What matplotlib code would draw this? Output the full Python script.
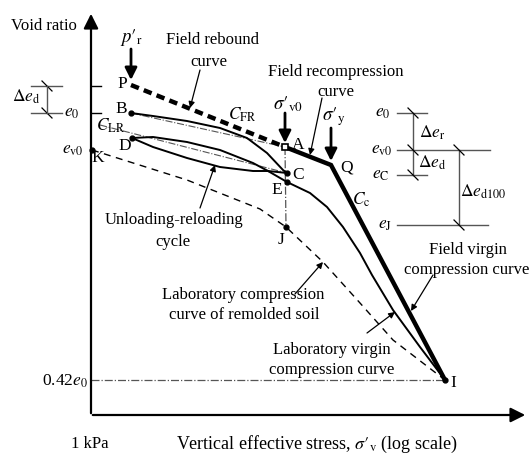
import numpy as np
import matplotlib.pyplot as plt

plt.rcParams['font.family'] = ['Liberation Serif', 'DejaVu Serif']
plt.rcParams['mathtext.fontset'] = 'stix'
plt.rcParams['font.size'] = 12

# schematic coordinates: x ~ log stress, y ~ void ratio (arbitrary units)
pt_P = (131, 369)
pt_B = (131, 341)
pt_D = (132, 316)
pt_K = (92, 304)
pt_A = (285, 307)
pt_Q = (331, 289)
pt_I = (445, 74)
pt_C = (287, 281)
pt_E = (287, 272)
pt_J = (286, 227)

# field curves
field_x = [pt_A[0], pt_Q[0], pt_I[0]]
field_y = [pt_A[1], pt_Q[1], pt_I[1]]
rebound_x = [pt_P[0], pt_A[0]]
rebound_y = [pt_P[1], pt_A[1]]

# laboratory curves
curve_B_x = [131, 153, 187, 220, 247, 267, 283, 287]
curve_B_y = [341, 338, 333, 326, 316, 301, 284, 281]
loop_up_x = [132, 153, 187, 220, 253, 268]
loop_up_y = [316, 317, 312, 304, 291, 283]
loop_lo_x = [132, 153, 187, 220, 253, 268]
loop_lo_y = [316, 307, 296, 287, 283, 283]
virgin_x = [268, 287, 310, 327, 343, 360, 372, 393, 420, 445]
virgin_y = [283, 272, 261, 247, 227, 201, 179, 144, 107, 74]
remold_x = [92, 187, 260, 286, 323, 360, 393, 445]
remold_y = [304, 274, 245, 227, 192, 151, 114, 74]

# reference levels
e0 = 341
ev0 = 304
eC = 279
eJ = 229
e_top = 368
e042 = 74

fig = plt.figure(figsize=(5.30, 4.54), dpi=100)
ax = fig.add_axes([0, 0, 1, 1])
ax.set_xlim(0, 530)
ax.set_ylim(0, 454)
ax.axis('off')

k = 'black'
gray = '#555555'

# axes with arrow heads
ax.annotate('', xy=(91, 443), xytext=(91, 38),
            arrowprops=dict(arrowstyle='-|>', lw=1.6, color=k, mutation_scale=22))
ax.annotate('', xy=(528, 39), xytext=(90, 39),
            arrowprops=dict(arrowstyle='-|>', lw=1.6, color=k, mutation_scale=22))
ax.text(44, 428, 'Void ratio', ha='center', va='center')
ax.text(90, 10, '1 kPa', ha='center', va='center')
ax.text(317, 10, r"Vertical effective stress, $\sigma\prime_{\rm v}$ (log scale)",
        ha='center', va='center', fontsize=13)

# y ticks and labels
for yy in (e_top, e0):
    ax.plot([91, 101], [yy, yy], color=k, lw=1)
ax.text(72, e0, r'$e_0$', ha='center', va='center', fontsize=12.5)
ax.text(73, ev0, r'$e_{\rm v0}$', ha='center', va='center', fontsize=12.5)
ax.text(88, e042 - 1, r'0.42$e_0$', ha='right', va='center', fontsize=12.5)

# delta e_d bracket on the left
for yy in (e_top, e0):
    ax.plot([31, 62], [yy, yy], color=gray, lw=1)
    ax.plot([42, 52], [yy + 5, yy - 5], color=k, lw=0.9)
ax.plot([47, 47], [e0, e_top], color=gray, lw=1)
ax.text(40, 357, r'$\Delta e_{\rm d}$', ha='right', va='center', fontsize=12.5)

# reference dash-dot lines
ax.plot([91, pt_I[0]], [e042, e042], color=gray, lw=0.9, ls='-.')
ax.plot([pt_A[0], pt_J[0]], [pt_A[1], pt_J[1]], color=gray, lw=0.9, ls='-.')
ax.plot([pt_B[0], pt_A[0]], [pt_B[1], pt_A[1]], color=gray, lw=0.8, ls='-.')
ax.plot([100, pt_C[0]], [329, pt_C[1]], color=gray, lw=0.8, ls='-.')

# curves
ax.plot(field_x, field_y, color=k, lw=3.2, solid_joinstyle='miter')
ax.plot(rebound_x, rebound_y, color=k, lw=3.2, ls=(0, (1.9, 1.2)))
ax.plot(curve_B_x, curve_B_y, color=k, lw=1.4)
ax.plot(loop_up_x, loop_up_y, color=k, lw=1.4)
ax.plot(loop_lo_x, loop_lo_y, color=k, lw=1.4)
ax.plot([loop_up_x[-1], pt_C[0]], [loop_up_y[-1], pt_C[1]], color=k, lw=1.4)
ax.plot(virgin_x, virgin_y, color=k, lw=1.4)
ax.plot(remold_x, remold_y, color=k, lw=1.0, ls=(0, (5, 4)))

# points
dots = [pt_B, pt_D, pt_K, pt_C, pt_E, pt_J, pt_I]
ax.plot([p[0] for p in dots], [p[1] for p in dots], 'o', color=k, ms=3.5)
ax.plot(pt_A[0], pt_A[1], 's', mfc='white', mec=k, ms=5, mew=1.2)

# point labels
labels = {'P': (122, 370), 'B': (121, 345), 'D': (125, 308), 'K': (98, 296),
          'A': (298, 309), 'Q': (347, 286), 'C': (298, 279), 'E': (277, 264),
          'J': (281, 214), 'I': (453, 71)}
for name, (lx, ly) in labels.items():
    ax.text(lx, ly, name, ha='center', va='center', fontsize=12.5)

ax.text(111, 328, r'$C_{\rm LR}$', ha='center', va='center', fontsize=12.5)
ax.text(242, 339, r'$C_{\rm FR}$', ha='center', va='center', fontsize=12.5)
ax.text(361, 254, r'$C_{\rm c}$', ha='center', va='center', fontsize=12.5)

# stress arrows
big = dict(arrowstyle='-|>', lw=2, color=k, mutation_scale=18, shrinkA=0, shrinkB=0)
ax.annotate('', xy=(131, 374), xytext=(131, 405), arrowprops=big)
ax.text(132, 417, r"$p\prime_{\rm r}$", ha='center', va='center', fontsize=13.5)
ax.annotate('', xy=(285, 311), xytext=(285, 341), arrowprops=big)
ax.text(288, 350, r"$\sigma\prime_{\rm v0}$", ha='center', va='center', fontsize=13.5)
ax.annotate('', xy=(331, 293), xytext=(331, 326), arrowprops=big)
ax.text(334, 337, r"$\sigma\prime_{\rm y}$", ha='center', va='center', fontsize=13.5)

# callouts: text lines and arrow from start to end
thin = dict(arrowstyle='-|>', lw=0.9, color=k, mutation_scale=9, shrinkA=0, shrinkB=0)
callouts = [
    ([('Field rebound', 212, 414), ('curve', 209, 392)], (200, 384), (190, 346)),
    ([('Field recompression', 336, 382), ('curve', 336, 362)], (322, 356), (310, 299)),
    ([('Unloading-reloading', 174, 234), ('cycle', 173, 212)], (200, 246), (215, 289)),
    ([('Laboratory compression', 243, 159), ('curve of remolded soil', 244, 139)],
     (295, 160), (323, 192)),
    ([('Laboratory virgin', 332, 104), ('compression curve', 332, 84)], (367, 121), (395, 142)),
    ([('Field virgin', 468, 204), ('compression curve', 467, 184)], (433, 179), (411, 143)),
]
for lines, start, end in callouts:
    for txt, tx, ty in lines:
        ax.text(tx, ty, txt, ha='center', va='center')
    ax.annotate('', xy=end, xytext=start, arrowprops=thin)

# void ratio change diagram on the right
for yy, x1 in ((e0, 427), (ev0, 490), (eC, 427), (eJ, 488)):
    ax.plot([397, x1], [yy, yy], color=gray, lw=1)
ax.plot([413, 413], [e0, eC], color=gray, lw=1)
ax.plot([459, 459], [ev0, eJ], color=gray, lw=1)
for xx, yy in ((413, e0), (413, ev0), (413, eC), (459, ev0), (459, eJ)):
    ax.plot([xx - 5, xx + 5], [yy + 5, yy - 5], color=k, lw=0.9)
ax.text(383, e0, r'$e_0$', ha='center', va='center', fontsize=12.5)
ax.text(382, ev0, r'$e_{\rm v0}$', ha='center', va='center', fontsize=12.5)
ax.text(381, eC, r'$e_{\rm C}$', ha='center', va='center', fontsize=12.5)
ax.text(385, eJ, r'$e_{\rm J}$', ha='center', va='center', fontsize=12.5)
ax.text(432, 321, r'$\Delta e_{\rm r}$', ha='center', va='center', fontsize=12.5)
ax.text(432, 291, r'$\Delta e_{\rm d}$', ha='center', va='center', fontsize=12.5)
ax.text(483, 262, r'$\Delta e_{\rm d100}$', ha='center', va='center', fontsize=12.5)

fig.savefig('out.png', dpi=100)
